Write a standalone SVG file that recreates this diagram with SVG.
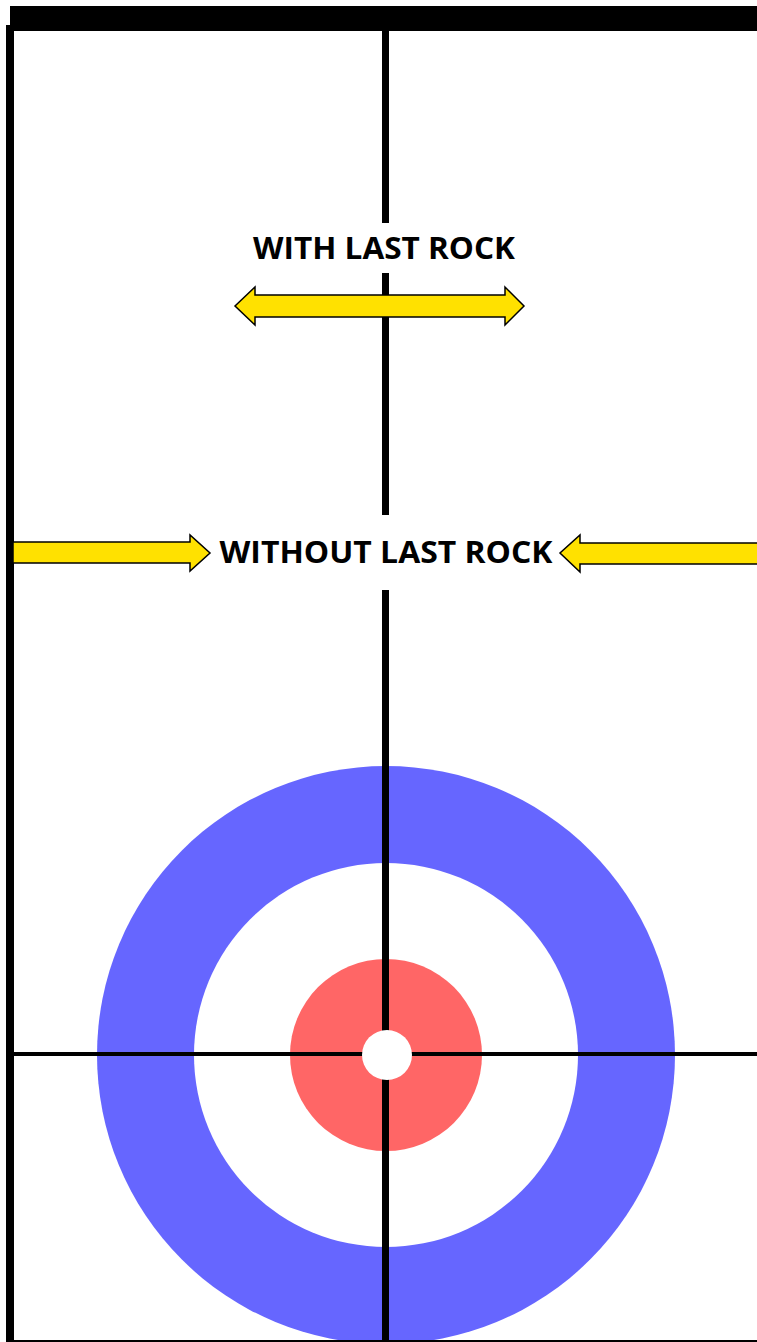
<svg xmlns="http://www.w3.org/2000/svg" width="757" height="1342" viewBox="0 0 757 1342">
<style>
.ln{fill:#000;}
.arrow{fill:#FFE100;stroke:#000;stroke-width:1.5;stroke-linejoin:miter;}
.lbl{font-family:"Open Sans","DejaVu Sans",sans-serif;font-weight:bold;font-size:30px;fill:#000;}
</style>
<rect width="757" height="1342" fill="#fff"/>
<g id="house">
<circle cx="386" cy="1055" r="289" fill="#6666FF"/>
<circle cx="386" cy="1055" r="192" fill="#fff"/>
<circle cx="386" cy="1055" r="96" fill="#FF6666"/>
</g>
<g id="lines">
<rect class="ln" x="10" y="6" width="747" height="25"/>
<rect class="ln" x="6" y="25" width="8" height="1317"/>
<rect class="ln" x="10" y="1340" width="747" height="2"/>
<rect class="ln" x="382" y="28" width="7" height="195"/>
<rect class="ln" x="382" y="273" width="7" height="242"/>
<rect class="ln" x="382" y="590" width="7" height="752"/>
<rect class="ln" x="14" y="1052" width="743" height="4"/>
</g>
<g id="button">
<circle cx="387" cy="1055" r="25" fill="#fff"/>
</g>
<g id="with-last-rock">
<text class="lbl" x="384" y="259" text-anchor="middle" textLength="262" lengthAdjust="spacingAndGlyphs">WITH LAST ROCK</text>
<polygon class="arrow" points="235,306 255,287 255,295 505,295 505,287 524,306 505,325 505,317 255,317 255,325"/>
</g>
<g id="without-last-rock">
<text class="lbl" x="386" y="563" text-anchor="middle" textLength="333" lengthAdjust="spacingAndGlyphs">WITHOUT LAST ROCK</text>
<polygon class="arrow" points="13,542 190,542 190,535 210,553 190,571 190,563 13,563"/>
<polygon class="arrow" points="758,543 580,543 580,535 560,553 580,572 580,564 758,564"/>
</g>
</svg>
